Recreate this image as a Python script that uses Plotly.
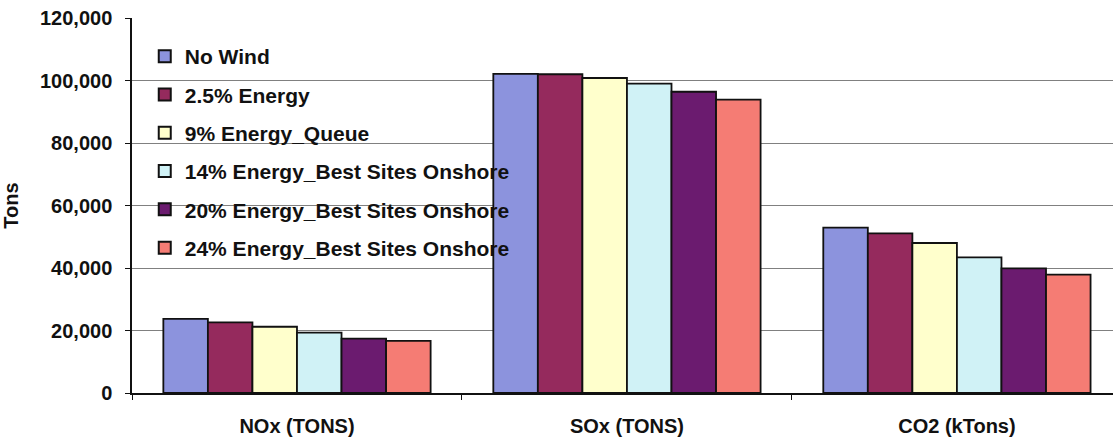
import plotly.graph_objects as go

# Emissions by pollutant under each wind-energy scenario
categories = ["NOx (TONS)", "SOx (TONS)", "CO2 (kTons)"]
scenarios = [
    "No Wind",
    "2.5% Energy",
    "9% Energy_Queue",
    "14% Energy_Best Sites Onshore",
    "20% Energy_Best Sites Onshore",
    "24% Energy_Best Sites Onshore",
]
no_wind = [23700, 102100, 52900]
energy_2_5 = [22600, 102000, 51100]
energy_9 = [21200, 100800, 48000]
energy_14 = [19300, 99000, 43400]
energy_20 = [17400, 96400, 39900]
energy_24 = [16700, 93900, 37900]
series = [no_wind, energy_2_5, energy_9, energy_14, energy_20, energy_24]

colors = ["#8C93DD", "#952A5D", "#FFFFCC", "#D0F2F6", "#6B1B6F", "#F57C74"]
y_ticks = [0, 20000, 40000, 60000, 80000, 100000, 120000]

FONT = "Liberation Sans, Arial, sans-serif"

fig = go.Figure()
for i, (name, vals, col) in enumerate(zip(scenarios, series, colors)):
    fig.add_trace(go.Bar(
        x=categories, y=vals, name=name, legendgroup=f"g{i}",
        marker=dict(color=col, line=dict(color="#111111", width=1.8)),
    ))

# white panel behind the legend, drawn over the gridlines but under the bars
fig.add_shape(type="rect", xref="paper", yref="y", x0=0.002, x1=0.38,
              y0=45000, y1=112000, fillcolor="white", line=dict(width=0),
              layer="between")

fig.update_layout(
    width=1113, height=441,
    margin=dict(l=132, r=0, t=18, b=48),
    paper_bgcolor="white", plot_bgcolor="white",
    barmode="group", bargap=0.19, bargroupgap=0,
    font=dict(family=FONT, size=20, color="#111111", weight="bold"),
    legend=dict(
        x=0.013, y=0.952, xanchor="left", yanchor="top",
        bgcolor="rgba(0,0,0,0)", borderwidth=0,
        traceorder="grouped", tracegroupgap=8,
        font=dict(family=FONT, size=21, color="#111111", weight="bold"),
        itemsizing="constant",
    ),
    showlegend=True,
)

fig.update_xaxes(
    range=[-0.5, 2.473], showline=True, linecolor="#111111", linewidth=1.5,
    ticks="outside", tickson="boundaries", ticklen=5, tickcolor="#111111",
    ticklabelstandoff=14, showgrid=False, zeroline=False,
)
fig.update_yaxes(
    range=[0, 120000], tickvals=y_ticks, tickformat=",",
    showline=True, linecolor="#111111", linewidth=1.5,
    ticks="outside", ticklen=5, tickcolor="#111111", ticklabelstandoff=9,
    showgrid=True, gridcolor="#808080", gridwidth=1, zeroline=False,
    title=dict(text="Tons", standoff=16,
               font=dict(family=FONT, size=20, color="#111111", weight="bold")),
)

fig.write_html("out.html")
